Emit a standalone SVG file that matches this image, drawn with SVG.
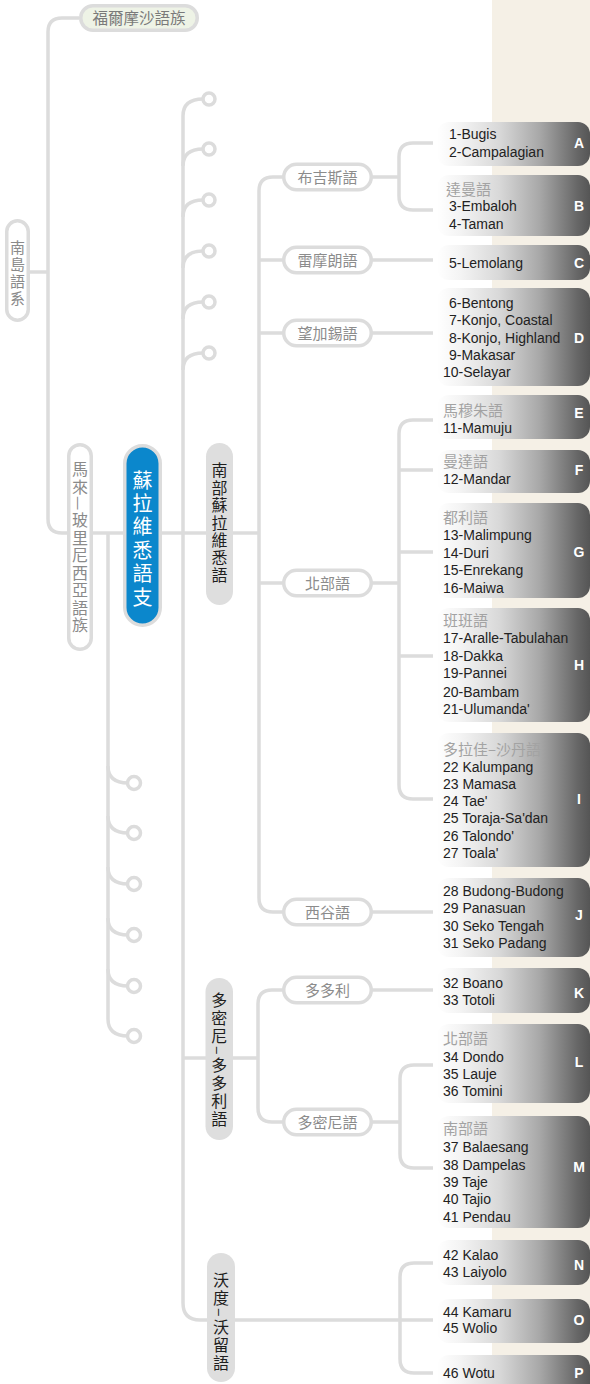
<svg xmlns="http://www.w3.org/2000/svg" width="590" height="1384" viewBox="0 0 590 1384">
<defs>
<linearGradient id="bg" gradientUnits="userSpaceOnUse" x1="437" y1="0" x2="590" y2="0">
<stop offset="0" stop-color="#ffffff"/>
<stop offset="0.15" stop-color="#f4f4f4"/>
<stop offset="0.41" stop-color="#d8d8d8"/>
<stop offset="0.67" stop-color="#a8a8a8"/>
<stop offset="0.92" stop-color="#666666"/>
<stop offset="1" stop-color="#555555"/>
</linearGradient>
<style>
.ln{fill:none;stroke:#dcdcdc;stroke-width:3.5}
.pill{fill:#fff;stroke:#dcdcdc;stroke-width:3.5}
.gp{fill:#dedede}
.circ{fill:#fff;stroke:#dcdcdc;stroke-width:3.5}
.t3{font-family:"Noto Sans CJK TC","Noto Sans CJK SC",sans-serif;font-size:15px;fill:#8c8c8c;text-anchor:middle}
.vt{font-family:"Noto Sans CJK TC","Noto Sans CJK SC",sans-serif;font-size:16px;writing-mode:vertical-rl;text-anchor:start}
.lst{font-family:"Liberation Sans",Arial,sans-serif;font-size:14px;fill:#222}
.hdr{font-family:"Noto Sans CJK TC","Noto Sans CJK SC",sans-serif;font-size:15px;fill:#a3a3a3}
.let{font-family:"Liberation Sans",Arial,sans-serif;font-weight:bold;font-size:14px;fill:#fff;text-anchor:middle}
.box{fill:url(#bg)}
</style>
</defs>
<rect x="0" y="0" width="590" height="1384" fill="#ffffff"/>
<rect x="492" y="0" width="98" height="1384" fill="#f5f0e6"/>

<g id="connectors">
<path class="ln" d="M79,18 H62 Q48,18 48,32 V519 Q48,533 62,533 H67"/>
<path class="ln" d="M30,272 H48"/>
<path class="ln" d="M93,533 H123"/>
<path class="ln" d="M108,533 V1019 Q108,1036 128,1036"/>
<path class="ln" d="M108,766 Q108,783 128,783 M108,816 Q108,833 128,833 M108,867 Q108,884 128,884 M108,918 Q108,935 128,935 M108,969 Q108,986 128,986"/>
<path class="ln" d="M162,533 H206"/>
<path class="ln" d="M233,533 H259"/>
<path class="ln" d="M203,99 Q183,99 183,116 V1303 Q183,1320 200,1320 H207"/>
<path class="ln" d="M183,166 Q183,149 203,149 M183,217 Q183,200 203,200 M183,268 Q183,251 203,251 M183,319 Q183,302 203,302 M183,370 Q183,353 203,353"/>
<path class="ln" d="M183,1058 H206"/>
<path class="ln" d="M283,177 H273 Q259,177 259,191 V898 Q259,912 273,912 H284"/>
<path class="ln" d="M259,260 H284 M259,333 H284 M259,583 H284"/>
<path class="ln" d="M372,177 H399 M433,143 H413 Q399,143 399,157 V196 Q399,210 413,210 H433"/>
<path class="ln" d="M372,260 H433 M372,333 H433"/>
<path class="ln" d="M372,583 H399 M433,420 H413 Q399,420 399,434 V785 Q399,799 413,799 H433 M399,470 H433 M399,552 H433 M399,656 H433"/>
<path class="ln" d="M372,912 H433"/>
<path class="ln" d="M233,1058 H258 M284,990 H272 Q258,990 258,1004 V1108 Q258,1122 272,1122 H284"/>
<path class="ln" d="M372,990 H433"/>
<path class="ln" d="M372,1122 H400 M433,1065 H414 Q400,1065 400,1079 V1154 Q400,1168 414,1168 H433"/>
<path class="ln" d="M235,1320 H433 M433,1263 H414 Q400,1263 400,1277 V1359 Q400,1373 414,1373 H433"/>
<circle class="circ" cx="209" cy="99" r="6"/>
<circle class="circ" cx="209" cy="149" r="6"/>
<circle class="circ" cx="209" cy="200" r="6"/>
<circle class="circ" cx="209" cy="251" r="6"/>
<circle class="circ" cx="209" cy="302" r="6"/>
<circle class="circ" cx="209" cy="353" r="6"/>
<circle class="circ" cx="134" cy="783" r="6.5"/>
<circle class="circ" cx="134" cy="833" r="6.5"/>
<circle class="circ" cx="134" cy="884" r="6.5"/>
<circle class="circ" cx="134" cy="935" r="6.5"/>
<circle class="circ" cx="134" cy="986" r="6.5"/>
<circle class="circ" cx="134" cy="1036" r="6.5"/>
</g>

<g id="n-formosan">
<rect x="80.75" y="5.75" width="116.5" height="24.5" rx="12.25" fill="#eef3e6" stroke="#dcdcdc" stroke-width="3.5"/>
<text x="139" y="24" font-family="Noto Sans CJK TC, Noto Sans CJK SC, sans-serif" font-size="15.5" fill="#7a7a7a" text-anchor="middle">福爾摩沙語族</text>
</g>

<g id="n-austronesian">
<rect class="pill" x="6.75" y="220.75" width="21.5" height="99.5" rx="10.75"/>
<text class="vt" x="17.5" y="239.5" fill="#8a8a8a" style="font-size:15px;letter-spacing:2px">南島語系</text>
</g>

<g id="n-malayo">
<rect class="pill" x="68.75" y="444.75" width="22.5" height="204.5" rx="11.25"/>
<text class="vt" x="80" y="461" fill="#8a8a8a" style="letter-spacing:1.55px">馬來—玻里尼西亞語族</text>
</g>

<g id="n-sulawesi">
<rect x="124.75" y="445.75" width="35.5" height="179.5" rx="17.75" fill="#0b87cc" stroke="#dcdcdc" stroke-width="3.5"/>
<text class="vt" x="142.5" y="470" fill="#ffffff" style="font-size:20px;letter-spacing:3.4px">蘇拉維悉語支</text>
</g>

<g id="n-south">
<rect class="gp" x="206" y="443" width="27" height="162" rx="13.5"/>
<text class="vt" x="219.5" y="462" fill="#1e1e1e" style="letter-spacing:1.5px">南部蘇拉維悉語</text>
</g>

<g id="n-tomini">
<rect class="gp" x="205.5" y="978" width="27.5" height="162" rx="13.75"/>
<text class="vt" x="219.2" y="992" fill="#1e1e1e" style="letter-spacing:2px">多密尼–多多利語</text>
</g>

<g id="n-wotu">
<rect class="gp" x="207" y="1253" width="28" height="129" rx="14"/>
<text class="vt" x="221" y="1272" fill="#1e1e1e" style="letter-spacing:2px">沃度–沃留語</text>
</g>

<g id="n-bugis"><rect class="pill" x="283.75" y="164.25" width="87.5" height="25.5" rx="12.75"/><text class="t3" x="327.5" y="182.7">布吉斯語</text></g>
<g id="n-lemolang"><rect class="pill" x="283.75" y="247.25" width="87.5" height="25.5" rx="12.75"/><text class="t3" x="327.5" y="265.7">雷摩朗語</text></g>
<g id="n-makassar"><rect class="pill" x="283.75" y="320.25" width="87.5" height="25.5" rx="12.75"/><text class="t3" x="327.5" y="338.7">望加錫語</text></g>
<g id="n-northern"><rect class="pill" x="283.75" y="570.25" width="87.5" height="25.5" rx="12.75"/><text class="t3" x="327.5" y="588.7">北部語</text></g>
<g id="n-seko"><rect class="pill" x="283.75" y="899.25" width="87.5" height="25.5" rx="12.75"/><text class="t3" x="327.5" y="917.7">西谷語</text></g>
<g id="n-totoli"><rect class="pill" x="283.75" y="977.25" width="87.5" height="25.5" rx="12.75"/><text class="t3" x="327.5" y="995.7">多多利</text></g>
<g id="n-tominilang"><rect class="pill" x="283.75" y="1109.25" width="87.5" height="25.5" rx="12.75"/><text class="t3" x="327.5" y="1127.7">多密尼語</text></g>

<g id="box-A"><rect class="box" x="437" y="122" width="153" height="44" rx="12"/>
<text class="lst" x="449" y="139">1-Bugis</text><text class="lst" x="449" y="157">2-Campalagian</text><text class="let" x="579" y="148">A</text></g>
<g id="box-B"><rect class="box" x="437" y="175" width="153" height="61" rx="12"/>
<text class="hdr" x="446" y="194.7">達曼語</text><text class="lst" x="449" y="211">3-Embaloh</text><text class="lst" x="449" y="229">4-Taman</text><text class="let" x="579" y="211">B</text></g>
<g id="box-C"><rect class="box" x="437" y="245" width="153" height="35" rx="12"/>
<text class="lst" x="449" y="268">5-Lemolang</text><text class="let" x="579" y="268">C</text></g>
<g id="box-D"><rect class="box" x="437" y="288" width="153" height="98" rx="12"/>
<text class="lst" x="449" y="308">6-Bentong</text><text class="lst" x="449" y="325">7-Konjo, Coastal</text><text class="lst" x="449" y="343">8-Konjo, Highland</text><text class="lst" x="449" y="360">9-Makasar</text><text class="lst" x="443" y="377">10-Selayar</text><text class="let" x="579" y="343">D</text></g>
<g id="box-E"><rect class="box" x="437" y="395" width="153" height="44" rx="12"/>
<text class="hdr" x="443" y="416">馬穆朱語</text><text class="lst" x="443" y="433">11-Mamuju</text><text class="let" x="579" y="418">E</text></g>
<g id="box-F"><rect class="box" x="437" y="450" width="153" height="43" rx="12"/>
<text class="hdr" x="443" y="467">曼達語</text><text class="lst" x="443" y="484">12-Mandar</text><text class="let" x="579" y="475">F</text></g>
<g id="box-G"><rect class="box" x="437" y="503" width="153" height="95" rx="12"/>
<text class="hdr" x="443" y="522.5">都利語</text><text class="lst" x="443" y="540">13-Malimpung</text><text class="lst" x="443" y="558">14-Duri</text><text class="lst" x="443" y="575">15-Enrekang</text><text class="lst" x="443" y="593">16-Maiwa</text><text class="let" x="579" y="557">G</text></g>
<g id="box-H"><rect class="box" x="437" y="608" width="153" height="114" rx="12"/>
<text class="hdr" x="443" y="626">班班語</text><text class="lst" x="443" y="643">17-Aralle-Tabulahan</text><text class="lst" x="443" y="661">18-Dakka</text><text class="lst" x="443" y="678">19-Pannei</text><text class="lst" x="443" y="697">20-Bambam</text><text class="lst" x="443" y="714">21-Ulumanda'</text><text class="let" x="579" y="670">H</text></g>
<g id="box-I"><rect class="box" x="437" y="733" width="153" height="134" rx="12"/>
<text class="hdr" x="443" y="754.5">多拉佳–沙丹語</text><text class="lst" x="443" y="772">22 Kalumpang</text><text class="lst" x="443" y="789">23 Mamasa</text><text class="lst" x="443" y="806">24 Tae'</text><text class="lst" x="443" y="823">25 Toraja-Sa'dan</text><text class="lst" x="443" y="841">26 Talondo'</text><text class="lst" x="443" y="858">27 Toala'</text><text class="let" x="579" y="804">I</text></g>
<g id="box-J"><rect class="box" x="437" y="878" width="153" height="79" rx="12"/>
<text class="lst" x="443" y="896">28 Budong-Budong</text><text class="lst" x="443" y="913">29 Panasuan</text><text class="lst" x="443" y="930.5">30 Seko Tengah</text><text class="lst" x="443" y="948">31 Seko Padang</text><text class="let" x="579" y="920">J</text></g>
<g id="box-K"><rect class="box" x="437" y="968" width="153" height="45" rx="12"/>
<text class="lst" x="443" y="987.5">32 Boano</text><text class="lst" x="443" y="1005">33 Totoli</text><text class="let" x="579" y="998">K</text></g>
<g id="box-L"><rect class="box" x="437" y="1024" width="153" height="79" rx="12"/>
<text class="hdr" x="443" y="1043.5">北部語</text><text class="lst" x="443" y="1062">34 Dondo</text><text class="lst" x="443" y="1079">35 Lauje</text><text class="lst" x="443" y="1096">36 Tomini</text><text class="let" x="579" y="1067">L</text></g>
<g id="box-M"><rect class="box" x="437" y="1116" width="153" height="112" rx="12"/>
<text class="hdr" x="443" y="1134">南部語</text><text class="lst" x="443" y="1152">37 Balaesang</text><text class="lst" x="443" y="1170">38 Dampelas</text><text class="lst" x="443" y="1187">39 Taje</text><text class="lst" x="443" y="1204">40 Tajio</text><text class="lst" x="443" y="1222">41 Pendau</text><text class="let" x="579" y="1172">M</text></g>
<g id="box-N"><rect class="box" x="437" y="1240" width="153" height="45" rx="12"/>
<text class="lst" x="443" y="1260">42 Kalao</text><text class="lst" x="443" y="1277">43 Laiyolo</text><text class="let" x="579" y="1270">N</text></g>
<g id="box-O"><rect class="box" x="437" y="1299" width="153" height="44" rx="12"/>
<text class="lst" x="443" y="1317">44 Kamaru</text><text class="lst" x="443" y="1333">45 Wolio</text><text class="let" x="579" y="1325">O</text></g>
<g id="box-P"><rect class="box" x="437" y="1355" width="153" height="45" rx="12"/>
<text class="lst" x="443" y="1378">46 Wotu</text><text class="let" x="579" y="1378">P</text></g>
</svg>
